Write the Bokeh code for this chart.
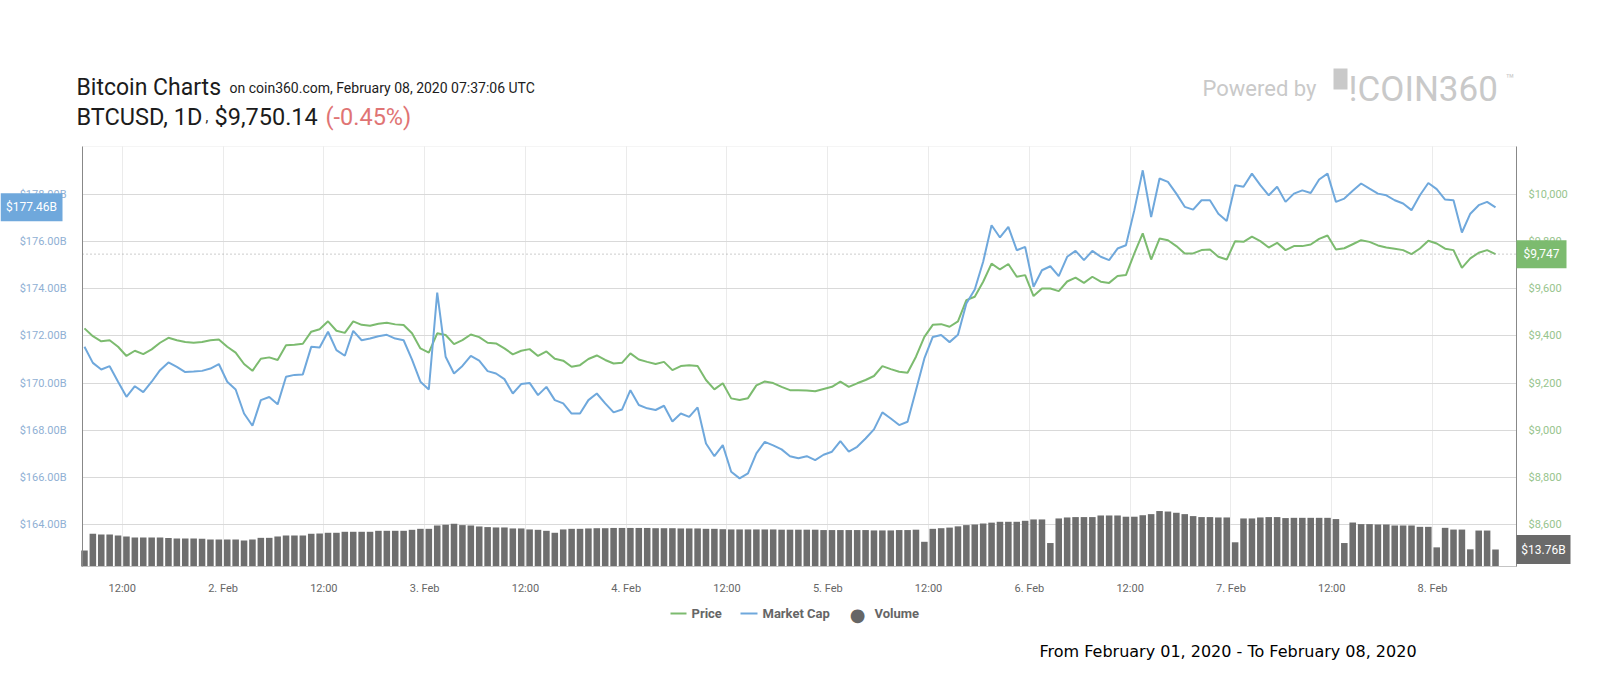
from datetime import datetime
import pandas as pd
from bokeh.plotting import figure
from bokeh.models import (Range1d, LinearAxis, FixedTicker, PrintfTickFormatter, NumeralTickFormatter,
                          CustomJSTickFormatter, Label, BoxAnnotation, ColumnDataSource, Grid)
from bokeh.embed import file_html
from bokeh.resources import INLINE

# ---------------- data (hourly, 1 Feb 07:30 UTC -> 8 Feb 07:30 UTC) ----------------
start_time = "2020-02-01 07:30"
n_points = 169

price = [9432, 9399, 9377, 9382, 9354, 9315, 9337, 9323, 9343, 9371,
         9392, 9382, 9374, 9371, 9374, 9382, 9385, 9354, 9329, 9281,
         9252, 9303, 9309, 9298, 9360, 9363, 9367, 9418, 9428, 9462,
         9422, 9413, 9462, 9447, 9443, 9452, 9456, 9449, 9446, 9411,
         9347, 9329, 9411, 9404, 9365, 9382, 9406, 9395, 9371, 9368,
         9347, 9322, 9337, 9344, 9315, 9334, 9303, 9295, 9269, 9276,
         9302, 9317, 9298, 9283, 9286, 9326, 9300, 9290, 9281, 9290,
         9255, 9272, 9276, 9272, 9213, 9173, 9199, 9135, 9128, 9136,
         9190, 9207, 9200, 9184, 9170, 9170, 9168, 9165, 9175, 9184,
         9206, 9184, 9199, 9213, 9230, 9272, 9259, 9248, 9244, 9312,
         9396, 9447, 9450, 9439, 9462, 9552, 9566, 9630, 9707, 9682,
         9705, 9651, 9658, 9569, 9601, 9601, 9590, 9631, 9647, 9625,
         9651, 9630, 9625, 9654, 9658, 9750, 9835, 9724, 9813, 9806,
         9781, 9750, 9750, 9764, 9767, 9736, 9724, 9802, 9799, 9821,
         9802, 9775, 9795, 9764, 9781, 9781, 9788, 9812, 9826, 9767,
         9772, 9789, 9806, 9799, 9784, 9775, 9770, 9764, 9747, 9771,
         9804, 9792, 9770, 9764, 9689, 9729, 9753, 9764, 9747]

market_cap = [171.54, 170.86, 170.58, 170.72, 170.06, 169.42, 169.87, 169.62, 170.06, 170.55,
              170.88, 170.69, 170.47, 170.49, 170.52, 170.62, 170.81, 170.06, 169.73, 168.71,
              168.19, 169.28, 169.41, 169.10, 170.27, 170.35, 170.37, 171.54, 171.51, 172.18,
              171.40, 171.16, 172.22, 171.82, 171.89, 171.99, 172.05, 171.89, 171.82, 171.00,
              170.06, 169.73, 173.84, 171.12, 170.41, 170.73, 171.16, 170.96, 170.51, 170.41,
              170.17, 169.56, 169.96, 170.01, 169.49, 169.84, 169.28, 169.14, 168.71, 168.71,
              169.28, 169.56, 169.14, 168.76, 168.88, 169.70, 169.07, 168.93, 168.86, 169.04,
              168.37, 168.71, 168.57, 168.97, 167.44, 166.90, 167.37, 166.24, 165.96, 166.17,
              167.02, 167.51, 167.36, 167.19, 166.90, 166.81, 166.90, 166.73, 166.96, 167.09,
              167.54, 167.09, 167.30, 167.65, 168.04, 168.76, 168.50, 168.22, 168.36, 169.70,
              171.05, 171.96, 172.04, 171.74, 172.05, 173.38, 173.97, 175.15, 176.70, 176.18,
              176.63, 175.64, 175.78, 174.09, 174.79, 174.96, 174.54, 175.36, 175.61, 175.22,
              175.61, 175.36, 175.22, 175.71, 175.85, 177.34, 179.03, 177.05, 178.68, 178.54,
              178.04, 177.48, 177.36, 177.76, 177.76, 177.19, 176.88, 178.40, 178.33, 178.89,
              178.40, 177.97, 178.33, 177.69, 178.04, 178.18, 178.07, 178.64, 178.89, 177.69,
              177.83, 178.16, 178.47, 178.25, 178.04, 177.97, 177.76, 177.62, 177.34, 177.97,
              178.49, 178.23, 177.79, 177.76, 176.39, 177.19, 177.55, 177.69, 177.46]

volume = [13.0, 26.5, 25.9, 25.9, 25.1, 24.3, 23.5, 23.5, 23.5, 23.5,
          23.0, 22.7, 22.7, 22.7, 22.4, 21.9, 21.9, 21.9, 21.9, 21.1,
          21.9, 23.2, 23.2, 24.3, 25.1, 25.1, 25.1, 26.5, 26.7, 27.3,
          27.3, 28.1, 28.1, 28.1, 28.1, 28.9, 28.9, 28.9, 28.9, 29.7,
          30.5, 30.5, 33.2, 33.8, 34.6, 33.5, 33.2, 32.4, 31.9, 31.6,
          31.6, 30.8, 30.8, 30.0, 29.7, 28.9, 27.3, 30.0, 30.5, 30.5,
          30.8, 31.0, 31.0, 31.2, 31.2, 31.2, 31.2, 31.2, 31.0, 31.0,
          31.0, 30.8, 30.8, 30.8, 30.5, 30.5, 30.2, 30.0, 30.0, 30.0,
          30.0, 30.0, 30.0, 29.8, 29.8, 29.8, 29.8, 29.8, 29.5, 29.5,
          29.5, 29.5, 29.5, 29.5, 29.2, 29.2, 29.2, 29.5, 29.5, 29.8,
          20.0, 30.5, 31.0, 31.5, 32.5, 33.5, 34.0, 34.8, 35.5, 36.2,
          36.2, 36.2, 37.0, 38.1, 38.1, 19.0, 38.9, 39.7, 40.0, 40.0,
          40.0, 41.3, 41.3, 41.3, 40.3, 40.3, 41.5, 42.4, 44.9, 44.5,
          43.5, 42.4, 40.8, 40.0, 40.0, 39.7, 39.7, 19.6, 38.9, 38.9,
          39.7, 40.0, 40.0, 39.2, 39.4, 39.4, 39.4, 39.4, 39.4, 38.4,
          19.0, 35.6, 34.3, 34.3, 34.0, 34.0, 33.2, 33.2, 33.2, 32.1,
          32.1, 15.5, 31.3, 29.9, 29.9, 13.9, 29.1, 29.1, 13.76]

mcap_ticks = [164, 166, 168, 170, 172, 174, 176, 178]
price_ticks = [8600, 8800, 9000, 9200, 9400, 9600, 9800, 10000]
last_price = 9747
last_mcap = 177.46
last_volume = 13.76

title_main = "Bitcoin Charts"
title_sub = "on coin360.com, February 08, 2020 07:37:06 UTC"
pair_label = "BTCUSD, 1D"
price_label = "$9,750.14"
change_label = "(-0.45%)"
footer = "From February 01, 2020 - To February 08, 2020"

# ---------------- geometry ----------------
W, H = 1600, 700
FL, FR, FT, FB = 82, 1516, 146, 566          # plot area in page pixels
x_start = datetime(2020, 2, 1, 7, 16)        # time at the left edge of plot area
x_end = datetime(2020, 2, 8, 10, 0)          # time at the right edge of plot area
epoch = datetime(1970, 1, 1)
X0 = (x_start - epoch).total_seconds() * 1000.0
X1 = (x_end - epoch).total_seconds() * 1000.0
MPP = (X1 - X0) / (FR - FL)

# value at bottom / top of plot area for each scale
Y0, Y1 = 162.22, 180.04       # market cap (B)
P0, P1 = 8421.8, 10203.6      # price
V0, V1 = 0.0, 340.0           # volume


def xd(px):
    return X0 + (px - FL) * MPP


def mk(v0, v1):
    per = (v1 - v0) / (FB - FT)
    return lambda py: v0 + (FB - py) * per


ym = mk(Y0, Y1)
yp = mk(P0, P1)
yv = mk(V0, V1)

p = figure(width=W, height=H, x_axis_type="datetime",
           x_range=Range1d(xd(0), xd(W)), y_range=Range1d(ym(H), ym(0)),
           output_backend="svg", toolbar_location=None, title=None,
           min_border_left=0, min_border_right=0, min_border_top=0, min_border_bottom=0)
p.background_fill_color = "white"
p.border_fill_color = "white"
p.outline_line_color = None

p.extra_y_ranges = {
    "price": Range1d(yp(H), yp(0)),
    "vol": Range1d(yv(H), yv(0)),
}

# plot-area border
p.add_layout(BoxAnnotation(left=X0, right=X1, bottom=Y0, top=Y1, fill_alpha=0,
                           line_color="#dedede", line_width=1, level="underlay"))

times = pd.date_range(start_time, periods=n_points, freq="h")
x_ticks = pd.date_range("2020-02-01 12:00", "2020-02-08 00:00", freq="12h")
x_tick_ms = [int(t.value // 10**6) for t in x_ticks]

src = ColumnDataSource(dict(t=times, price=price, mcap=market_cap, vol=volume))

GREEN = "#7cbb6f"
BLUE = "#6fa8dc"

# grids limited to the plot area
if "cross_bounds" in Grid.properties():
    p.xgrid.ticker = FixedTicker(ticks=x_tick_ms)
    p.xgrid.cross_bounds = (Y0, Y1)
    p.ygrid.ticker = FixedTicker(ticks=mcap_ticks)
    p.ygrid.cross_bounds = (X0, X1)
    p.xgrid.grid_line_color = "#ebebeb"
    p.ygrid.grid_line_color = "#d9d9d9"
else:
    p.xgrid.visible = False
    p.ygrid.visible = False
    p.segment(x0=x_tick_ms, x1=x_tick_ms, y0=[Y0] * len(x_tick_ms), y1=[Y1] * len(x_tick_ms),
              line_color="#ebebeb", line_width=1, level="underlay")
    p.segment(x0=[X0] * len(mcap_ticks), x1=[X1] * len(mcap_ticks), y0=mcap_ticks, y1=mcap_ticks,
              line_color="#d9d9d9", line_width=1, level="underlay")

p.vbar(x="t", top="vol", bottom=0, width=0.78 * 3600 * 1000, source=src,
       y_range_name="vol", fill_color="#6e6e6e", line_color=None)
p.line("t", "price", source=src, y_range_name="price", line_color=GREEN, line_width=2)
p.line("t", "mcap", source=src, line_color=BLUE, line_width=2)

# dotted current-price line across the plot area
p.segment(x0=[X0], x1=[X1], y0=[last_price], y1=[last_price], y_range_name="price",
          line_color="#9a9a9a", line_dash="1 3", line_width=1)

# ---------------- axes (drawn at fixed locations around the plot area) ----------------
ROBOTO = "Roboto"
yl = p.yaxis[0]
yl.fixed_location = X0
yl.bounds = (Y0, Y1)
yl.ticker = FixedTicker(ticks=mcap_ticks)
yl.formatter = PrintfTickFormatter(format="$%.2fB")
yl.axis_line_color = "#888888"
yl.major_tick_line_color = None
yl.minor_tick_line_color = None
yl.major_label_text_font = ROBOTO
yl.major_label_text_font_size = "11px"
yl.major_label_text_color = "#8fb0d4"
yl.major_label_standoff = 10

yr = LinearAxis(y_range_name="price", ticker=FixedTicker(ticks=price_ticks),
                formatter=NumeralTickFormatter(format="$0,0"))
yr.fixed_location = X1
yr.bounds = (P0, P1)
yr.axis_line_color = "#888888"
yr.major_tick_line_color = None
yr.minor_tick_line_color = None
yr.major_label_text_font = ROBOTO
yr.major_label_text_font_size = "11px"
yr.major_label_text_color = "#97c48d"
yr.major_label_standoff = 6
p.add_layout(yr, "right")

xa = p.xaxis[0]
xa.fixed_location = Y0
xa.bounds = (X0, X1)
xa.ticker = FixedTicker(ticks=x_tick_ms)
xa.formatter = CustomJSTickFormatter(code="""
const d = new Date(tick);
const h = d.getUTCHours();
const months = ["Jan","Feb","Mar","Apr","May","Jun","Jul","Aug","Sep","Oct","Nov","Dec"];
if (h === 0) { return d.getUTCDate() + ". " + months[d.getUTCMonth()]; }
return (h < 10 ? "0" : "") + h + ":00";
""")
xa.axis_line_color = "#c4c4c4"
xa.major_tick_line_color = None
xa.minor_tick_line_color = None
xa.major_label_text_font = ROBOTO
xa.major_label_text_font_size = "11px"
xa.major_label_text_color = "#666666"
xa.major_label_standoff = 9


# ---------------- texts ----------------
def text(px, py, s, size, color, font=ROBOTO, align="left", baseline="alphabetic", style="normal",
         y_range_name="default", yval=None):
    p.add_layout(Label(x=xd(px), y=ym(py) if yval is None else yval, y_range_name=y_range_name,
                       text=s, text_font=font, text_font_size=size,
                       text_color=color, text_align=align, text_baseline=baseline,
                       text_font_style=style))


def box(px0, px1, py0, py1, color):
    p.add_layout(BoxAnnotation(left=xd(px0), right=xd(px1), bottom=ym(py1), top=ym(py0),
                               fill_color=color, fill_alpha=1, line_color=None))


INK = "#1c1c1c"
text(76, 87, title_main, "23px", INK)
text(229, 87, title_sub, "14px", INK)
text(76, 116, pair_label, "23.5px", INK)
text(205, 116, ",", "14px", INK)
text(214, 116, price_label, "23.5px", INK)
text(325, 116, change_label, "23.5px", "#e07474")

LOGO = "#c9c9c9"
text(1202, 88, "Powered by", "22px", LOGO)
box(1333, 1347, 68, 89, LOGO)
text(1348, 89, "!COIN360", "35px", LOGO)
text(1505, 78, "\u2122", "14px", LOGO)

text(1039, 651, footer, "16px", "#000000", font="DejaVu Sans")

# legend
LY = 613
box(670, 686, LY - 1, LY + 1, GREEN)
text(691, LY, "Price", "13px", "#666666", baseline="middle", style="bold")
box(740, 757, LY - 1, LY + 1, BLUE)
text(762, LY, "Market Cap", "13px", "#666666", baseline="middle", style="bold")
text(857, LY + 1, "\u25cf", "18px", "#666666", font="DejaVu Sans", align="center", baseline="middle")
text(874, LY, "Volume", "13px", "#666666", baseline="middle", style="bold")

# value flags
HALF = 14 * (Y1 - Y0) / (FB - FT)
p.add_layout(BoxAnnotation(left=xd(0), right=xd(62), bottom=last_mcap - HALF, top=last_mcap + HALF,
                           fill_color=BLUE, fill_alpha=1, line_color=None))
text(31, 0, "$177.46B", "12px", "white", align="center", baseline="middle", yval=last_mcap)

HALF_P = 14 * (P1 - P0) / (FB - FT)
p.add_layout(BoxAnnotation(left=X1, right=xd(1566), bottom=last_price - HALF_P,
                           top=last_price + HALF_P, y_range_name="price",
                           fill_color=GREEN, fill_alpha=1, line_color=None))
text(1541, 0, "$9,747", "12px", "white", align="center", baseline="middle",
     y_range_name="price", yval=last_price)

HALF_V = 14.5 * (V1 - V0) / (FB - FT)
p.add_layout(BoxAnnotation(left=X1, right=xd(1570), bottom=last_volume - HALF_V,
                           top=last_volume + HALF_V, y_range_name="vol",
                           fill_color="#6a6a6a", fill_alpha=1, line_color=None))
text(1543, 0, "$13.76B", "12px", "white", align="center", baseline="middle",
     y_range_name="vol", yval=last_volume)

open("out.html", "w").write(file_html(p, INLINE))
